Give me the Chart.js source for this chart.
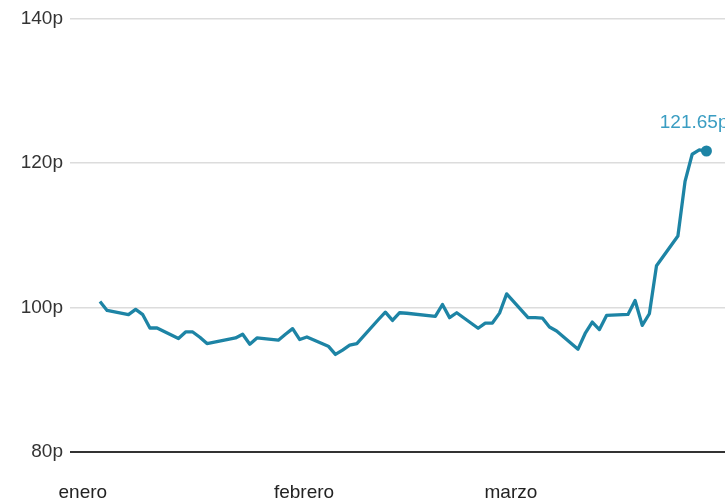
<!DOCTYPE html>
<html>
<head>
<meta charset="utf-8">
<script src="https://cdn.jsdelivr.net/npm/chart.js@4/dist/chart.umd.min.js"></script>
<style>
    html, body { margin: 0; padding: 0; background: #fff; }
    #wrap { width: 725px; height: 503px; position: relative; }
</style>
</head>
<body>
<div id="wrap"><canvas id="price-chart"></canvas></div>
<script>
// day of year (0 = 1 enero), trading days only
const days = [
    1, 2, 5, 6, 7, 8, 9, 12, 13, 14, 15, 16, 20, 21, 22, 23, 26, 27, 28, 29, 30,
    33, 34, 35, 36, 37, 40, 41, 42, 43, 44, 48, 49, 50, 51, 54, 55, 56, 57, 58,
    61, 62, 63, 64, 65, 68, 69, 70, 71, 72, 75, 76, 77, 78, 79, 82, 83, 84, 85, 86
];
// price in pence
const prices = [
    100.82, 99.59, 99.0, 99.73, 99.0, 97.16, 97.16, 95.70, 96.61, 96.61, 95.88, 95.01,
    95.78, 96.29, 94.92, 95.78, 95.47, 96.29, 97.07, 95.56, 95.92,
    94.64, 93.50, 94.10, 94.78, 95.01, 98.30, 99.35, 98.21, 99.27, 99.20,
    98.76, 100.41, 98.59, 99.27, 97.12, 97.84, 97.84, 99.22, 101.88,
    98.60, 98.59, 98.53, 97.29, 96.74, 94.23, 96.40, 97.98, 96.94, 98.90,
    99.04, 100.96, 97.53, 99.13, 105.77, 109.89, 117.45, 121.20, 121.80, 121.65
];
const monthDays = [0, 31, 60];
const monthLabels = ['enero', 'febrero', 'marzo'];
const yTicks = [80, 100, 120, 140];

const lineColor = '#1d84a5';
const labelColor = '#3a9dc2';
const font = "'Liberation Sans', Arial, Helvetica, sans-serif";

// last value label above the end point
const lastLabel = {
    id: 'lastLabel',
    afterDatasetsDraw(chart) {
        const meta = chart.getDatasetMeta(0);
        const pt = meta.data[meta.data.length - 1];
        const ctx = chart.ctx;
        ctx.save();
        ctx.font = '19px ' + font;
        ctx.fillStyle = labelColor;
        ctx.textAlign = 'right';
        ctx.textBaseline = 'middle';
        ctx.fillText(prices[prices.length - 1].toFixed(2) + 'p', pt.x + 22, pt.y - 28);
        ctx.restore();
    }
};

const points = days.map((d, i) => ({ x: d, y: prices[i] }));

new Chart(document.getElementById('price-chart'), {
    type: 'line',
    data: {
        datasets: [{
            data: points,
            borderColor: lineColor,
            backgroundColor: lineColor,
            borderWidth: 3.3,
            tension: 0,
            borderJoinStyle: 'round',
            clip: false,
            pointRadius: points.map((p, i) => i === points.length - 1 ? 5.5 : 0),
            pointHoverRadius: 0,
            pointBorderWidth: 0
        }]
    },
    options: {
        responsive: true,
        maintainAspectRatio: false,
        animation: false,
        layout: { autoPadding: false, padding: { top: 16, right: 0, bottom: 0, left: 0 } },
        plugins: {
            legend: { display: false },
            tooltip: { enabled: false }
        },
        scales: {
            x: {
                type: 'linear',
                min: -3.2,
                max: 88.6,
                grid: { display: false },
                border: { display: false },
                afterBuildTicks: axis => {
                    axis.ticks = monthDays.map(v => ({ value: v }));
                },
                afterFit: axis => { axis.height = 51; },
                ticks: {
                    autoSkip: false,
                    maxRotation: 0,
                    padding: 21,
                    labelOffset: -10,
                    color: '#222',
                    font: { family: font, size: 19 },
                    callback: (v) => monthLabels[monthDays.indexOf(v)]
                }
            },
            y: {
                min: 80,
                max: 140,
                afterBuildTicks: axis => {
                    axis.ticks = yTicks.map(v => ({ value: v }));
                },
                afterFit: axis => { axis.width = 70; },
                grid: {
                    drawTicks: false,
                    color: c => c.tick && c.tick.value === 80 ? '#333' : '#dcdcdc',
                    lineWidth: c => c.tick && c.tick.value === 80 ? 2 : 1.5
                },
                border: { display: false },
                ticks: {
                    padding: 7,
                    color: '#333',
                    font: { family: font, size: 19 },
                    callback: v => v + 'p'
                }
            }
        }
    },
    plugins: [lastLabel]
});
</script>
</body>
</html>
